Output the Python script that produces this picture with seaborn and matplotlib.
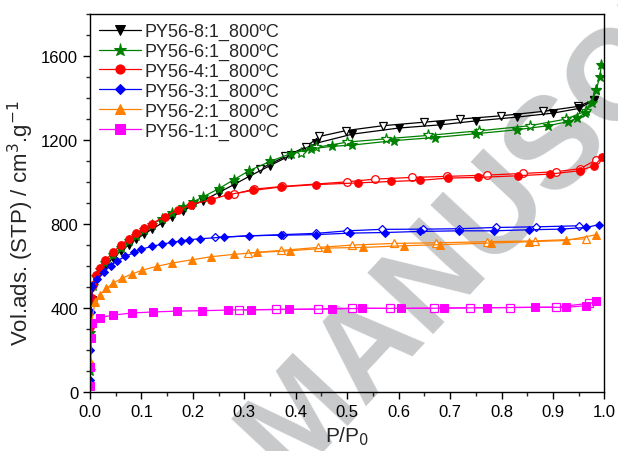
import numpy as np
import pandas as pd
import matplotlib
matplotlib.use('Agg')
import matplotlib.pyplot as plt
from matplotlib.ticker import MultipleLocator
import seaborn as sns

# N2 isotherms - adsorption (filled) and desorption (open) branches
labels = ['PY56-8:1_800ºC', 'PY56-6:1_800ºC', 'PY56-4:1_800ºC',
          'PY56-3:1_800ºC', 'PY56-2:1_800ºC', 'PY56-1:1_800ºC']
colors = ['black', '#008000', '#ff0000', '#0000ff', '#ff8000', '#ff00ff']
markers = ['v', '*', 'o', 'D', '^', 's']

p_ads_8 = [0.0003, 0.001, 0.003, 0.006, 0.012, 0.02, 0.03, 0.045, 0.06, 0.075, 0.09, 0.105, 0.12, 0.14,
           0.16, 0.18, 0.2, 0.22, 0.25, 0.28, 0.31, 0.35, 0.39, 0.44, 0.51, 0.6, 0.68, 0.75, 0.83, 0.9, 0.95, 0.98]
v_ads_8 = [120, 300, 440, 500, 540, 570, 600, 640, 672, 700, 728, 752, 775, 805,
           835, 862, 890, 912, 950, 988, 1028, 1078, 1128, 1185, 1228, 1257, 1272, 1291, 1309, 1328, 1350, 1390]
p_des_8 = [0.98, 0.949, 0.88, 0.798, 0.72, 0.65, 0.569, 0.498, 0.446, 0.42, 0.38, 0.33]
v_des_8 = [1392, 1360, 1336, 1315, 1300, 1285, 1268, 1245, 1217, 1168, 1122, 1062]

p_ads_6 = [0.0003, 0.001, 0.003, 0.006, 0.012, 0.02, 0.03, 0.045, 0.06, 0.075, 0.09, 0.105, 0.12, 0.14,
           0.16, 0.18, 0.2, 0.22, 0.25, 0.28, 0.31, 0.35, 0.39, 0.43, 0.47, 0.51, 0.59, 0.67, 0.75, 0.83,
           0.89, 0.93, 0.947, 0.962, 0.975, 0.984, 0.991, 0.994]
v_ads_6 = [100, 280, 430, 505, 548, 582, 615, 655, 688, 718, 745, 772, 797, 826,
           853, 880, 905, 930, 968, 1012, 1055, 1098, 1135, 1158, 1170, 1176, 1197, 1212, 1230, 1249,
           1268, 1288, 1304, 1328, 1376, 1439, 1502, 1557]
p_des_6 = [0.984, 0.965, 0.926, 0.855, 0.757, 0.657, 0.576, 0.5, 0.44, 0.41]
v_des_6 = [1440, 1340, 1300, 1268, 1244, 1222, 1206, 1190, 1165, 1140]

p_ads_4 = [0.0003, 0.001, 0.003, 0.006, 0.012, 0.02, 0.03, 0.045, 0.06, 0.075, 0.09, 0.105, 0.12, 0.145,
           0.171, 0.197, 0.235, 0.268, 0.316, 0.372, 0.44, 0.521, 0.586, 0.641, 0.696, 0.754, 0.832,
           0.894, 0.952, 0.98, 0.996]
v_ads_4 = [130, 310, 450, 512, 558, 592, 627, 667, 700, 730, 756, 780, 802, 836,
           866, 893, 916, 940, 960, 977, 988, 996, 1003, 1008, 1019, 1022, 1030,
           1038, 1054, 1078, 1119]
p_des_4 = [0.984, 0.953, 0.906, 0.841, 0.771, 0.693, 0.625, 0.554, 0.499, 0.373, 0.318, 0.279]
v_des_4 = [1106, 1064, 1049, 1041, 1033, 1027, 1022, 1014, 1001, 979, 966, 942]

p_ads_3 = [0.0003, 0.001, 0.002, 0.0045, 0.014, 0.027, 0.04, 0.053, 0.069, 0.086, 0.1, 0.121, 0.14,
           0.16, 0.176, 0.193, 0.213, 0.261, 0.31, 0.372, 0.44, 0.505, 0.573, 0.641, 0.717, 0.785,
           0.853, 0.915, 0.965, 0.99]
v_ads_3 = [60, 200, 380, 507, 538, 573, 602, 626, 646, 665, 681, 694, 705,
           713, 720, 726, 730, 738, 745, 747, 750, 757, 760, 765, 768, 768,
           773, 776, 784, 798]
p_des_3 = [0.951, 0.867, 0.79, 0.717, 0.648, 0.567, 0.5, 0.44, 0.375, 0.243]
v_des_3 = [792, 787, 784, 778, 776, 775, 768, 756, 750, 737]

p_ads_2 = [0.0003, 0.001, 0.003, 0.0097, 0.02, 0.032, 0.045, 0.062, 0.081, 0.102, 0.13, 0.16, 0.198,
           0.236, 0.28, 0.324, 0.389, 0.46, 0.53, 0.61, 0.68, 0.779, 0.854, 0.926, 0.983]
v_ads_2 = [40, 150, 330, 428, 465, 494, 519, 542, 562, 581, 599, 615, 630,
           645, 656, 665, 673, 686, 689, 697, 702, 710, 716, 722, 749]
p_des_2 = [0.964, 0.865, 0.772, 0.672, 0.591, 0.509, 0.444, 0.372, 0.307]
v_des_2 = [730, 720, 716, 711, 708, 700, 689, 675, 662]

p_ads_1 = [0.0002, 0.0008, 0.002, 0.0045, 0.019, 0.045, 0.081, 0.123, 0.17, 0.218, 0.268, 0.313,
           0.387, 0.47, 0.528, 0.604, 0.688, 0.771, 0.865, 0.926, 0.965, 0.983]
v_ads_1 = [30, 120, 260, 329, 355, 367, 377, 382, 386, 388, 391, 393,
           394, 396, 399, 399, 400, 402, 404, 404, 412, 435]
p_des_1 = [0.97, 0.905, 0.817, 0.739, 0.669, 0.584, 0.51, 0.443, 0.362, 0.29]
v_des_1 = [423, 405, 403, 402, 400, 399, 400, 396, 394, 391]

ads = [(p_ads_8, v_ads_8), (p_ads_6, v_ads_6), (p_ads_4, v_ads_4),
       (p_ads_3, v_ads_3), (p_ads_2, v_ads_2), (p_ads_1, v_ads_1)]
des = [(p_des_8, v_des_8), (p_des_6, v_des_6), (p_des_4, v_des_4),
       (p_des_3, v_des_3), (p_des_2, v_des_2), (p_des_1, v_des_1)]

sns.set_style('ticks')
plt.rcParams['font.family'] = ['Liberation Sans', 'DejaVu Sans']

fig = plt.figure(figsize=(6.18, 4.52), dpi=100)
ax = fig.add_axes([0.1456, 0.130, 0.8325, 0.837])
ax.patch.set_facecolor('none')

# watermark behind everything (cut by the page edges like in the original)
fig.text(0.428, -0.013, 'MANUSCRIPT', rotation=47, rotation_mode='anchor',
         ha='left', va='center', fontsize=93, fontweight='bold', color='#c8c9cb', zorder=-1)

for i in range(6):
    ms = 8 if markers[i] == '*' else 5.5
    if markers[i] == 'D':
        ms = 4.5
    df_a = pd.DataFrame({'p': ads[i][0], 'v': ads[i][1]})
    df_d = pd.DataFrame({'p': des[i][0], 'v': des[i][1]})
    sns.lineplot(data=df_d, x='p', y='v', ax=ax, sort=False, estimator=None, color=colors[i],
                 marker=markers[i], markersize=ms, markerfacecolor='white', markeredgecolor=colors[i],
                 markeredgewidth=0.9, linewidth=0.9)
    sns.lineplot(data=df_a, x='p', y='v', ax=ax, sort=False, estimator=None, color=colors[i],
                 marker=markers[i], markersize=ms, markerfacecolor=colors[i], markeredgecolor=colors[i],
                 linewidth=0.9, label=labels[i])

ax.set_xlim(0, 1.0)
ax.set_ylim(0, 1800)
ax.xaxis.set_major_locator(MultipleLocator(0.1))
ax.xaxis.set_minor_locator(MultipleLocator(0.05))
ax.yaxis.set_major_locator(MultipleLocator(400))
ax.yaxis.set_minor_locator(MultipleLocator(100))
ax.set_yticks([0, 400, 800, 1200, 1600])
ax.tick_params(which='major', direction='out', length=5, width=1, labelsize=12, colors='black')
ax.tick_params(which='minor', direction='out', length=3, width=1)
ax.tick_params(top=False, right=False)
for s in ax.spines.values():
    s.set_visible(True)
    s.set_linewidth(1.0)
    s.set_color('black')

ax.set_xlabel('P/P$_0$', fontsize=15, labelpad=4)
ax.set_ylabel('Vol.ads. (STP) / cm$^3$.g$^{-1}$', fontsize=16)
ax.yaxis.set_label_coords(-0.105, 0.45)

ax.legend(loc='upper left', bbox_to_anchor=(0.0, 1.0), frameon=False, fontsize=13,
          handlelength=2.3, handletextpad=0.2, labelspacing=0.15, borderpad=0.3,
          borderaxespad=0.2, markerscale=1.2)

fig.savefig('out.png', dpi=100)
